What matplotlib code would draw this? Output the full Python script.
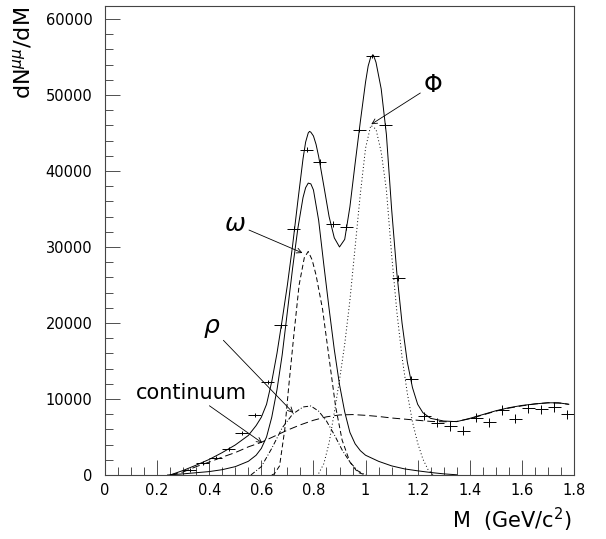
import matplotlib.pyplot as plt
from matplotlib.ticker import MultipleLocator

# measured dimuon mass spectrum (bin centres, counts, errors)
mass = [0.325, 0.375, 0.425, 0.475, 0.525, 0.575, 0.625, 0.675, 0.725, 0.775,
        0.825, 0.875, 0.925, 0.975, 1.025, 1.075, 1.125, 1.175, 1.225, 1.275,
        1.325, 1.375, 1.425, 1.475, 1.525, 1.575, 1.625, 1.675, 1.725, 1.775]
counts = [700, 1550, 2300, 3400, 5500, 7850, 12250, 19700, 32400, 42800,
          41200, 33000, 32600, 45400, 55100, 46000, 25900, 12600, 7800, 6900,
          6450, 5800, 7550, 6950, 8550, 7400, 8800, 8650, 8950, 8000]
count_err = [250, 250, 250, 250, 250, 250, 300, 300, 300, 300,
             400, 400, 400, 300, 250, 300, 350, 450, 550, 600,
             600, 600, 600, 600, 600, 600, 600, 600, 600, 600]
bin_half = 0.025

# total fit
total_x = [0.25, 0.30, 0.35, 0.40, 0.45, 0.50, 0.55, 0.58, 0.60, 0.62,
           0.64, 0.66, 0.68, 0.70, 0.72, 0.74, 0.76, 0.77, 0.78, 0.785,
           0.79, 0.80, 0.81, 0.82, 0.84, 0.86, 0.88, 0.90, 0.92, 0.94,
           0.96, 0.98, 1.00, 1.01, 1.02, 1.03, 1.04, 1.06, 1.08, 1.10,
           1.12, 1.14, 1.16, 1.18, 1.20, 1.22, 1.25, 1.30, 1.35, 1.40,
           1.45, 1.50, 1.55, 1.60, 1.65, 1.70, 1.74, 1.78]
total_y = [0, 600, 1300, 2050, 2950, 3950, 5200, 6500, 7600, 9300,
           12300, 16000, 20400, 25000, 30200, 36000, 41600, 43800, 45000, 45200,
           45100, 44600, 43500, 41900, 38000, 34000, 31200, 30000, 31000, 35300,
           41000, 46500, 51700, 53800, 55000, 55250, 54300, 50800, 44800, 35000,
           26600, 20000, 14900, 11500, 9300, 8200, 7450, 7100, 7020, 7450,
           7950, 8450, 8850, 9150, 9350, 9500, 9500, 9300]

# rho + omega
res_x = [0.24, 0.30, 0.35, 0.40, 0.45, 0.50, 0.55, 0.58, 0.60, 0.62,
         0.64, 0.66, 0.68, 0.70, 0.72, 0.74, 0.76, 0.77, 0.78, 0.79,
         0.80, 0.82, 0.84, 0.86, 0.88, 0.90, 0.92, 0.94, 0.96, 0.98,
         1.00, 1.05, 1.10, 1.15, 1.20, 1.25, 1.30, 1.35]
res_y = [0, 150, 300, 450, 700, 1100, 1800, 2600, 3500, 5000,
         7600, 11200, 15800, 21500, 27200, 32400, 36500, 37800, 38400, 38300,
         37500, 33500, 27600, 21900, 16500, 11900, 8300, 5600, 4100, 3200,
         2600, 1800, 1200, 800, 550, 330, 150, 30]

# omega
omega_x = [0.64, 0.65, 0.67, 0.69, 0.705, 0.725, 0.745, 0.765, 0.78, 0.795,
           0.81, 0.835, 0.86, 0.885, 0.91, 0.94, 0.97, 1.0]
omega_y = [0, 150, 1200, 6000, 11600, 18500, 25000, 28600, 29400, 28300,
           26300, 21800, 15400, 9000, 4600, 1700, 350, 0]

# rho
rho_x = [0.56, 0.60, 0.64, 0.68, 0.72, 0.76, 0.79, 0.82, 0.85, 0.88,
         0.91, 0.94, 0.97, 1.00]
rho_y = [0, 1100, 3500, 6200, 8000, 8950, 9080, 8400, 7100, 5300,
         3300, 1700, 550, 0]

# phi
phi_x = [0.82, 0.84, 0.86, 0.88, 0.90, 0.92, 0.94, 0.96, 0.98, 1.00,
         1.02, 1.04, 1.06, 1.08, 1.10, 1.12, 1.14, 1.16, 1.18, 1.20,
         1.22, 1.24, 1.26]
phi_y = [200, 1500, 4200, 8200, 12500, 17200, 23000, 30000, 37000, 43000,
         46000, 45500, 42500, 37500, 29000, 21500, 15500, 10800, 7000, 4200,
         2100, 700, 0]

# continuum
cont_x = [0.25, 0.30, 0.35, 0.40, 0.45, 0.50, 0.55, 0.60, 0.65, 0.70,
          0.75, 0.80, 0.85, 0.90, 0.95, 1.00, 1.05, 1.10, 1.15, 1.20,
          1.25, 1.30, 1.35, 1.40, 1.45, 1.50, 1.55, 1.60, 1.65, 1.70,
          1.75, 1.78]
cont_y = [0, 400, 1100, 1700, 2350, 2950, 3700, 4300, 5100, 5900,
          6600, 7200, 7650, 7900, 7950, 7850, 7700, 7500, 7350, 7200,
          7050, 7000, 7050, 7400, 7900, 8400, 8800, 9100, 9350, 9500,
          9450, 9300]

fig = plt.figure(figsize=(6.06, 5.39), dpi=100)
ax = fig.add_axes([105/606, 64/539, 469/606, 469/539])

lw = 0.7
ax.errorbar(mass, counts, xerr=bin_half, yerr=count_err, fmt='none',
            ecolor='black', elinewidth=lw, capsize=0)
ax.plot(total_x, total_y, color='black', lw=lw)
ax.plot(res_x, res_y, color='black', lw=lw)
ax.plot(omega_x, omega_y, color='black', lw=lw, dashes=(5, 3))
ax.plot(rho_x, rho_y, color='black', lw=lw, dashes=(5, 2, 1, 2))
ax.plot(phi_x, phi_y, color='black', lw=lw, dashes=(1, 2.5))
ax.plot(cont_x, cont_y, color='black', lw=lw, dashes=(8, 4))

ax.set_xlim(0, 1.8)
ax.set_ylim(0, 61700)
ax.xaxis.set_major_locator(MultipleLocator(0.2))
ax.xaxis.set_minor_locator(MultipleLocator(0.05))
ax.yaxis.set_major_locator(MultipleLocator(10000))
ax.yaxis.set_minor_locator(MultipleLocator(2000))
ax.xaxis.set_major_formatter(plt.FuncFormatter(lambda v, p: '%g' % round(v, 2)))
ax.tick_params(which='both', direction='in', top=False, right=False,
               width=0.6, colors='#333333', labelcolor='black', labelsize=10.5)
ax.tick_params(which='major', length=11)
ax.tick_params(which='minor', length=5.5)
ax.tick_params(axis='x', pad=6)
ax.tick_params(axis='y', pad=9)
for s in ax.spines.values():
    s.set_linewidth(0.8)
    s.set_color('#444444')

fig.text(572/606, 1 - 520/539, r'M  (GeV/c$^{2}$)', fontsize=15,
         ha='right', va='center')
fig.text(22/606, 1 - 7/539, r'dN$^{\mu\mu}$/dM', fontsize=16,
         rotation=90, ha='center', va='top')

arrow = dict(arrowstyle='->', lw=0.6, color='black', shrinkA=0, shrinkB=0,
             mutation_scale=9)
ax.annotate(r'$\omega$', xy=(0.758, 29210), xytext=(0.50, 33000),
            fontsize=18, ha='center', va='center', arrowprops=arrow)
ax.annotate(r'$\rho$', xy=(0.723, 8160), xytext=(0.41, 19300),
            fontsize=18, ha='center', va='center', arrowprops=arrow)
ax.annotate('continuum', xy=(0.604, 4210), xytext=(0.331, 10790),
            fontsize=15, ha='center', va='center', arrowprops=arrow)
ax.annotate(r'$\Phi$', xy=(1.022, 46140), xytext=(1.258, 51300),
            fontsize=17, ha='center', va='center', arrowprops=arrow)

fig.savefig('out.png', dpi=100)
